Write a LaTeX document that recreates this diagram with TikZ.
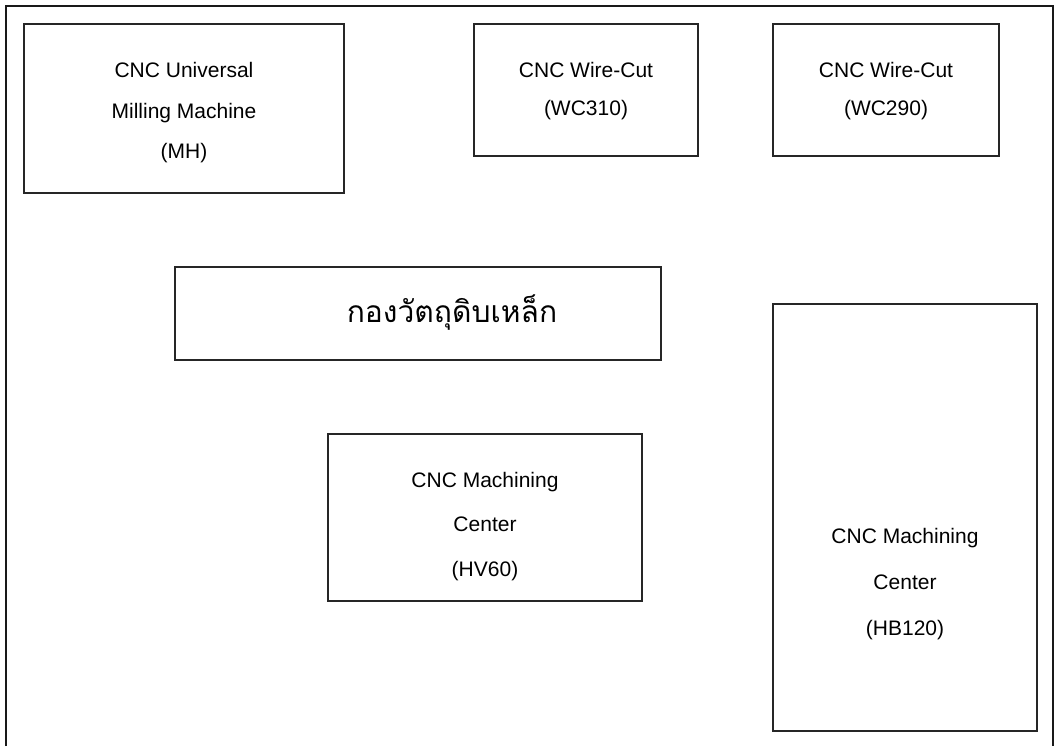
\documentclass[tikz,border=0pt]{standalone}
\usepackage{fontspec}
\setmainfont{Liberation Sans}
\newfontfamily\thaifont[Script=Thai]{Loma}
\begin{document}
\begin{tikzpicture}[x=1pt,y=-1pt,
  machine/.style={draw=black!85, line width=1.5pt, inner sep=0pt},
  caption/.style={inner sep=0pt, align=center, font=\fontsize{21}{#1}\selectfont},
  caption/.default=42,
  frameline/.style={draw=black!90, line width=1.8pt}]
\useasboundingbox (0,0) rectangle (1056,746);
% outer frame, open at the bottom
\draw[frameline] (6,746) -- (6,6) -- (1053,6) -- (1053,746);
% machine outlines
\node[machine, minimum width=320pt, minimum height=169pt] (mh) at (184,108.5) {};
\node[machine, minimum width=224pt, minimum height=132pt] (wc310) at (586,90) {};
\node[machine, minimum width=226pt, minimum height=132pt] (wc290) at (886,90) {};
\node[machine, minimum width=486pt, minimum height=93pt] (stock) at (418,313.5) {};
\node[machine, minimum width=314pt, minimum height=167pt] (hv60) at (485,517.5) {};
\node[machine, minimum width=264pt, minimum height=427pt] (hb120) at (905,517.5) {};
% captions
\node[caption=40.5] (mhtext) at (184,113) {CNC Universal\\Milling Machine\\(MH)};
\node[caption=38] (wc310text) at (586,91.5) {CNC Wire-Cut\\(WC310)};
\node[caption=38] (wc290text) at (886,91.5) {CNC Wire-Cut\\(WC290)};
\node[inner sep=0pt, font=\thaifont\fontsize{30}{34}\selectfont] (stocktext) at (452,313) {กองวัตถุดิบเหล็ก};
\node[caption=44.5] (hv60text) at (485,526.5) {CNC Machining\\Center\\(HV60)};
\node[caption=46] (hb120text) at (905,584.5) {CNC Machining\\Center\\(HB120)};
\end{tikzpicture}
\end{document}
